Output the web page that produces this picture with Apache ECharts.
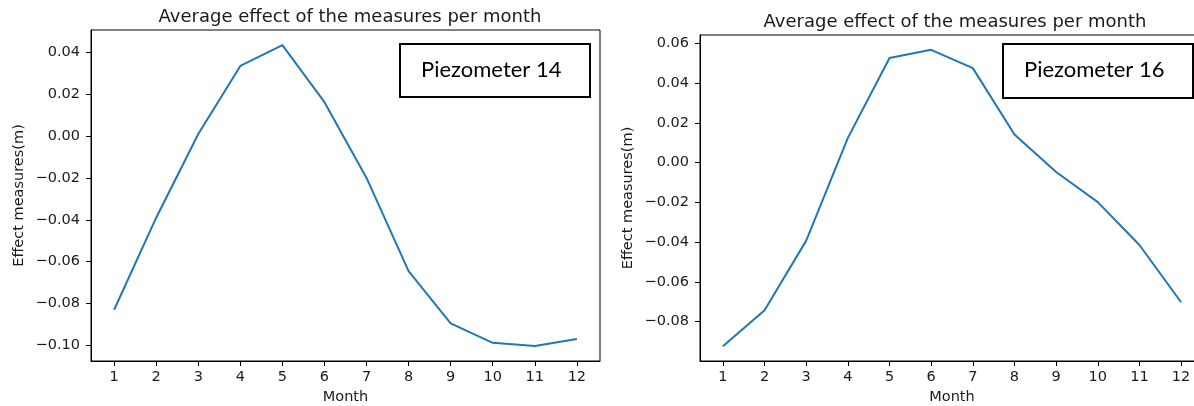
<!DOCTYPE html>
<html>
<head>
<meta charset="utf-8">
<script src="https://cdn.jsdelivr.net/npm/echarts@6/dist/echarts.min.js"></script>
<style>
html, body { margin: 0; padding: 0; background: #fff; }
#chart { width: 1194px; height: 406px; }
</style>
</head>
<body>
<div id="chart"></div>
<script>
const months = [1, 2, 3, 4, 5, 6, 7, 8, 9, 10, 11, 12];
const piezo14 = [-0.083, -0.039, 0.001, 0.0335, 0.0435, 0.0162, -0.020, -0.0645, -0.0895, -0.0988, -0.1003, -0.097];
const piezo16 = [-0.0923, -0.0742, -0.0392, 0.0125, 0.0527, 0.0568, 0.0476, 0.0142, -0.0047, -0.0198, -0.0414, -0.0702];
const yTicks14 = [-0.10, -0.08, -0.06, -0.04, -0.02, 0.00, 0.02, 0.04];
const yTicks16 = [-0.08, -0.06, -0.04, -0.02, 0.00, 0.02, 0.04, 0.06];

const FONT = 'DejaVu Sans';
const INK = '#1a1a1a';
const AX = 14.5;

// matplotlib style 5% margin around data
function padded(arr) {
    const lo = Math.min(...arr), hi = Math.max(...arr);
    const m = (hi - lo) * 0.05;
    return [lo - m, hi + m];
}
function fmt(v) {
    return (v < -1e-9 ? '\u2212' : '') + Math.abs(v).toFixed(2);
}

const xr = padded(months);
const r14 = padded(piezo14);
const r16 = padded(piezo16);

function xAxis(idx) {
    return {
        type: 'value', gridIndex: idx, min: xr[0], max: xr[1],
        name: 'Month', nameLocation: 'middle', nameGap: 29,
        nameTextStyle: { fontFamily: FONT, fontSize: AX, color: INK },
        axisLine: { show: true, onZero: false, lineStyle: { color: '#000', width: 1 } },
        axisTick: { show: true, length: 5, customValues: months, lineStyle: { color: '#000' } },
        axisLabel: { customValues: months, margin: 9, fontFamily: FONT, fontSize: AX, color: INK },
        splitLine: { show: false }
    };
}
function yAxis(idx, range, ticks) {
    return {
        type: 'value', gridIndex: idx, min: range[0], max: range[1],
        name: 'Effect measures(m)', nameLocation: 'middle', nameGap: 64,
        nameTextStyle: { fontFamily: FONT, fontSize: AX, color: INK },
        axisLine: { show: true, onZero: false, lineStyle: { color: '#000', width: 1 } },
        axisTick: { show: true, length: 5, customValues: ticks, lineStyle: { color: '#000' } },
        axisLabel: { customValues: ticks, margin: 11, fontFamily: FONT, fontSize: AX, color: INK, formatter: fmt },
        splitLine: { show: false }
    };
}
function noteBox(x, y, w, h, label) {
    return {
        type: 'group', left: x, top: y,
        children: [
            { type: 'rect', shape: { x: 0, y: 0, width: w, height: h }, style: { fill: '#fff', stroke: '#000', lineWidth: 2 } },
            { type: 'text', x: 21, y: h / 2 - 1, style: { text: label, fontFamily: 'Lato', fontSize: 22, fill: '#000', verticalAlign: 'middle' } }
        ]
    };
}

const chart = echarts.init(document.getElementById('chart'));
chart.setOption({
    animation: false,
    backgroundColor: '#fff',
    title: [
        { text: 'Average effect of the measures per month', left: 345, top: 3, textAlign: 'center',
          textStyle: { fontFamily: FONT, fontSize: 18, fontWeight: 'normal', color: INK } },
        { text: 'Average effect of the measures per month', left: 950, top: 8, textAlign: 'center',
          textStyle: { fontFamily: FONT, fontSize: 18, fontWeight: 'normal', color: INK } }
    ],
    grid: [
        { left: 91, right: 594, top: 30, bottom: 45, show: true, borderColor: '#000', borderWidth: 1,
          containLabel: false, outerBoundsMode: 'none' },
        { left: 700, right: -10, top: 35, bottom: 45, show: true, borderColor: '#000', borderWidth: 1,
          containLabel: false, outerBoundsMode: 'none' }
    ],
    xAxis: [xAxis(0), xAxis(1)],
    yAxis: [yAxis(0, r14, yTicks14), yAxis(1, r16, yTicks16)],
    series: [
        { type: 'line', xAxisIndex: 0, yAxisIndex: 0, symbol: 'none',
          lineStyle: { color: '#1f77b4', width: 2 },
          data: months.map((m, i) => [m, piezo14[i]]) },
        { type: 'line', xAxisIndex: 1, yAxisIndex: 1, symbol: 'none',
          lineStyle: { color: '#1f77b4', width: 2 },
          data: months.map((m, i) => [m, piezo16[i]]) }
    ],
    graphic: [
        noteBox(399, 43, 190, 53, 'Piezometer 14'),
        noteBox(1002, 43, 190, 54, 'Piezometer 16')
    ]
});
</script>
</body>
</html>
